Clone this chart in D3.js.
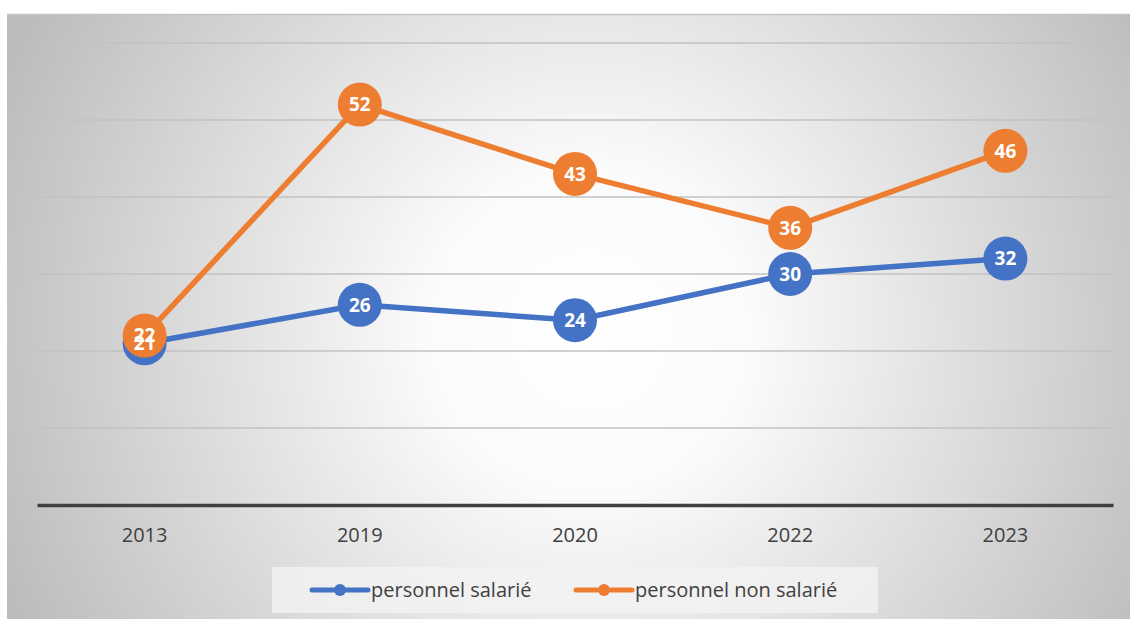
<!DOCTYPE html>
<html>
<head>
<meta charset="utf-8">
<script src="https://cdn.jsdelivr.net/npm/d3@7"></script>
<style>
  body { margin: 0; background: #fff; }
  svg text { font-family: "Open Sans", "Noto Sans", sans-serif; }
</style>
</head>
<body>
<div class="content"></div>
<script>
var years = ["2013", "2019", "2020", "2022", "2023"];
var salarie = [21, 26, 24, 30, 32];
var nonSalarie = [22, 52, 43, 36, 46];
var seriesNames = ["personnel salarié", "personnel non salarié"];
var colors = ["#4472C4", "#ED7D31"];
var yTicks = [10, 20, 30, 40, 50, 60];

var fullWidth = 1130, fullHeight = 619;
var margin = {top: 43, right: 17, bottom: 114, left: 37};
var width = fullWidth - margin.left - margin.right;
var height = 505 - margin.top;

var svg = d3.select("div.content").append("svg")
    .attr("width", fullWidth)
    .attr("height", fullHeight);

// background gradient
var defs = svg.append("defs");
var grad = defs.append("radialGradient")
    .attr("id", "bg")
    .attr("gradientUnits", "userSpaceOnUse")
    .attr("cx", 590).attr("cy", 330).attr("r", 640);
grad.append("stop").attr("offset", "0").attr("stop-color", "#ffffff");
grad.append("stop").attr("offset", "0.25").attr("stop-color", "#fbfbfb");
grad.append("stop").attr("offset", "1").attr("stop-color", "#bcbcbc");

svg.append("rect")
    .attr("x", 7).attr("y", 14)
    .attr("width", fullWidth - 7).attr("height", fullHeight - 14)
    .attr("fill", "url(#bg)");
svg.append("line")
    .attr("x1", 7).attr("x2", fullWidth)
    .attr("y1", 14.5).attr("y2", 14.5)
    .attr("stroke", "#c4c4c4").attr("stroke-width", 1.5);

var g = svg.append("g")
    .attr("transform", "translate(" + margin.left + "," + margin.top + ")");

var x = d3.scaleBand().domain(years).range([0, width]);
var y = d3.scaleLinear().domain([0, 60]).range([height, 0]);
var cx = function(d){ return x(d) + x.bandwidth() / 2; };

// gridlines
g.selectAll(".grid")
    .data(yTicks)
  .enter().append("line")
    .attr("class", "grid")
    .attr("x1", 0).attr("x2", width)
    .attr("y1", function(d){ return y(d); })
    .attr("y2", function(d){ return y(d); })
    .attr("stroke", "#c2c2c2")
    .attr("stroke-width", 1.5);

// x-axis
var xAxis = g.append("g")
    .attr("class", "x-axis")
    .attr("transform", "translate(0," + height + ")")
    .call(d3.axisBottom(x).tickSize(0).tickPadding(23));
xAxis.attr("font-family", null);
xAxis.select(".domain").attr("stroke", "#404040").attr("stroke-width", 3.5);
xAxis.selectAll("text")
    .attr("fill", "#404040")
    .style("font-size", "20px");

var valueLine = d3.line()
    .x(function(d){ return cx(d.year); })
    .y(function(d){ return y(d.v); });

var allSeries = [salarie, nonSalarie].map(function(vals, i){
    return years.map(function(yr, j){ return {year: yr, v: vals[j], s: i}; });
});

allSeries.forEach(function(data, i){
    g.append("path")
        .datum(data)
        .attr("d", valueLine)
        .attr("fill", "none")
        .attr("stroke", colors[i])
        .attr("stroke-width", 5.5)
        .attr("stroke-linejoin", "round");
    g.selectAll(".dot" + i)
        .data(data)
      .enter().append("circle")
        .attr("class", "dot" + i)
        .attr("cx", function(d){ return cx(d.year); })
        .attr("cy", function(d){ return y(d.v); })
        .attr("r", 22)
        .attr("fill", colors[i]);
});

// data labels
allSeries.forEach(function(data){
    g.selectAll(null)
        .data(data)
      .enter().append("text")
        .attr("x", function(d){ return cx(d.year); })
        .attr("y", function(d){ return y(d.v); })
        .attr("dy", "0.36em")
        .attr("text-anchor", "middle")
        .attr("fill", "#fff")
        .style("font-size", "19px")
        .style("font-weight", "bold")
        .text(function(d){ return d.v; });
});

// legend
var legend = svg.append("g");
legend.append("rect")
    .attr("x", 272).attr("y", 567)
    .attr("width", 606).attr("height", 46)
    .attr("fill", "#f2f2f2").attr("fill-opacity", 0.8);

var legendX = [312, 576];
seriesNames.forEach(function(name, i){
    var lg = legend.append("g").attr("transform", "translate(" + legendX[i] + ",590)");
    lg.append("line")
        .attr("x1", 0).attr("x2", 56)
        .attr("stroke", colors[i])
        .attr("stroke-width", 5)
        .attr("stroke-linecap", "round");
    lg.append("circle")
        .attr("cx", 28).attr("r", 6)
        .attr("fill", colors[i]);
    lg.append("text")
        .attr("x", 59)
        .attr("dy", "0.35em")
        .attr("fill", "#404040")
        .style("font-size", "20px")
        .text(name);
});
</script>
</body>
</html>
